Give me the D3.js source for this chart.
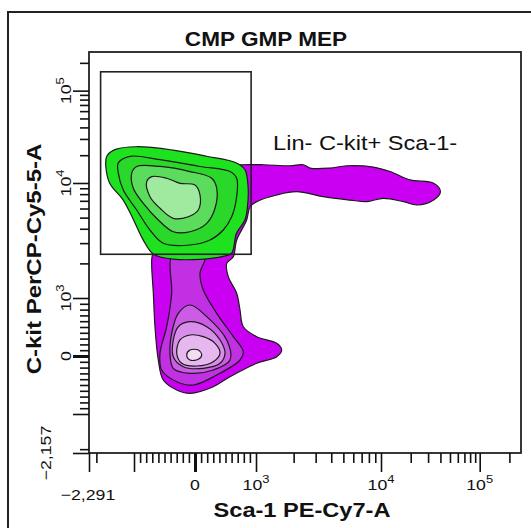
<!DOCTYPE html>
<html>
<head>
<meta charset="utf-8">
<script src="https://cdn.jsdelivr.net/npm/d3@7"></script>
<style>
  body { margin: 0; background: #fff; }
  svg { display: block; }
  text { font-family: "Liberation Sans", Arial, sans-serif; fill: #111; }
</style>
</head>
<body>
<svg id="chart" width="531" height="528"></svg>
<script>
// axis limits (linear units, biexponential display)
const xMin = -2291, yMin = -2157, axisMax = 262143;

const title = 'CMP GMP MEP';
const xTitle = 'Sca-1 PE-Cy7-A';
const yTitle = 'C-kit PerCP-Cy5-5-A';
const gateLabel = 'Lin- C-kit+ Sca-1-';

// labelled ticks: value, base, exponent
const tickValues = [0, 1e3, 1e4, 1e5];
const tickBase = ['0', '10', '10', '10'];
const tickExp = ['', '3', '4', '5'];
const longTicks = [-1000, 0, 1e3, 1e4, 1e5];
const minorTicks = [-2000]
  .concat(d3.range(-900, 1000, 100).filter(v => v !== 0))
  .concat([2, 3, 4, 5, 6, 7, 8, 9].map(m => m * 1e3))
  .concat([2, 3, 4, 5, 6, 7, 8, 9].map(m => m * 1e4))
  .concat([2e5]);

// rectangle gate [Sca-1 min, max], [C-kit min, max]
const gateX = [-1850, 920];
const gateY = [2400, 160000];
const gateLabelAt = [1370, 22500];

// contour outlines [Sca-1, C-kit], outermost level first
const greenOuter = [[-1650,19500],[-1420,23000],[-960,24700],[-360,22700],[190,19500],[680,16500],[820,13900],[870,9300],[860,6200],[820,4800],[680,3650],[600,2450],[460,2300],[80,2170],[-360,2180],[-680,2400],[-850,3200],[-1010,4800],[-1220,7100],[-1560,9900],[-1680,15100]];
const greenL2 = [[-1335,16500],[-1076,19450],[-574,17900],[82,15100],[574,13300],[683,11260],[683,7600],[601,5090],[464,3900],[246,3190],[-82,2890],[-520,2990],[-738,3900],[-956,5820],[-1218,8690],[-1335,12780]];
const greenL3 = [[-1043,12780],[-956,15100],[-574,15100],[-82,13300],[274,11260],[356,9000],[328,6030],[192,4460],[-82,3770],[-356,3770],[-602,4770],[-847,6660],[-1013,9000]];
const greenL4 = [[-792,10330],[-710,11730],[-464,11260],[-246,9940],[0,9600],[82,7870],[54,5820],[-110,5090],[-356,4930],[-574,6030],[-738,7600]];

const magentaOuter = [[765,15770],[1144,15770],[1871,15370],[2390,15770],[2704,14500],[3908,14500],[5316,15370],[8678,14880],[12350,13310],[19770,10790],[34180,9940],[39990,8400],[34180,7110],[23130,6440],[16890,6880],[10540,7360],[7685,6880],[5649,7110],[3454,7600],[2116,8400],[1464,7870],[1013,6880],[902,6220],[847,4770],[683,3190],[628,2290],[520,2000],[546,1530],[683,1100],[738,793],[792,505],[1013,333],[1464,219],[1605,103],[1464,-12],[1013,-126],[574,-357],[300,-529],[-82,-643],[-300,-586],[-520,-414],[-602,-69],[-656,505],[-683,1100],[-710,2140],[-683,2615],[-628,4170],[-356,11730],[464,15110]];
const magentaL2 = [[-115,2615],[-382,2290],[-382,1100],[-464,505],[-574,47],[-546,-241],[-300,-443],[-28,-500],[356,-328],[738,-69],[792,74],[628,333],[356,736],[136,1174],[82,1640],[164,2290]];
const magentaL3 = [[-82,879],[-274,736],[-382,391],[-410,47],[-356,-212],[-82,-298],[300,-241],[574,-69],[520,276],[192,678]];
const magentaL4 = [[-82,591],[-274,505],[-356,276],[-356,-12],[-192,-184],[136,-212],[410,-126],[492,47],[410,276],[192,505]];
const magentaL5 = [[-82,362],[-246,276],[-300,47],[-218,-126],[28,-172],[300,-98],[410,47],[328,219],[136,333]];
const magentaL6 = [[-82,103],[-136,17],[-82,-69],[54,-57],[110,17],[54,103]];

const magentaLevels = [magentaOuter, magentaL2, magentaL3, magentaL4, magentaL5, magentaL6];
const greenLevels = [greenOuter, greenL2, greenL3, greenL4];
const magentaFills = ['#ca00f2', '#c230e4', '#cc5ce6', '#d98eea', '#e6b8ef', '#f4ddf4'];
const greenFills = ['#1ee21e', '#2ad82a', '#5cdc5c', '#a0eaa0'];

// biexponential-style display: linear within +-1000, log decades outside
function disp(v) {
  const a = Math.abs(v);
  return Math.sign(v) * (a <= 1000 ? a / 1000 : 1 + Math.log10(a / 1000));
}

const plotLeft = 89, plotRight = 521, plotTop = 52, plotBottom = 453;
const stretch = 1.18;

const xs = d3.scaleLinear()
  .domain([disp(xMin), -1, 0, 1, 2, disp(axisMax)])
  .range([plotLeft, 134, 195, 256, 381, plotRight]);
const ys = d3.scaleLinear()
  .domain([disp(yMin), -1, 0, 1, 2, disp(axisMax)])
  .range([plotBottom, 414, 356, 298, 183, plotTop]);
const X = v => xs(disp(v));
const Y = v => ys(disp(v));

const svg = d3.select('#chart');
svg.append('rect').attr('width', 531).attr('height', 528).attr('fill', '#fff');

// outer frame
svg.append('path')
  .attr('d', 'M8,528V12H531')
  .attr('fill', 'none').attr('stroke', '#222').attr('stroke-width', 2);

const line = d3.line()
  .x(d => X(d[0]))
  .y(d => Y(d[1]))
  .curve(d3.curveCatmullRomClosed.alpha(0.5));

const plot = svg.append('g');
magentaLevels.forEach((pts, i) => {
  plot.append('path').attr('d', line(pts))
    .attr('fill', magentaFills[i]).attr('stroke', '#1a1a1a').attr('stroke-width', 1.2);
});
greenLevels.forEach((pts, i) => {
  plot.append('path').attr('d', line(pts))
    .attr('fill', greenFills[i]).attr('stroke', '#1a1a1a').attr('stroke-width', 1.2);
});

// gate
svg.append('rect')
  .attr('x', X(gateX[0])).attr('y', Y(gateY[1]))
  .attr('width', X(gateX[1]) - X(gateX[0]))
  .attr('height', Y(gateY[0]) - Y(gateY[1]))
  .attr('fill', 'none').attr('stroke', '#222').attr('stroke-width', 1.6);

svg.append('text')
  .attr('transform', `translate(${X(gateLabelAt[0])},${Y(gateLabelAt[1])}) scale(${stretch},1)`)
  .attr('font-size', 20)
  .text(gateLabel);

// plot box
svg.append('rect')
  .attr('x', plotLeft).attr('y', plotTop)
  .attr('width', plotRight - plotLeft).attr('height', plotBottom - plotTop)
  .attr('fill', 'none').attr('stroke', '#222').attr('stroke-width', 1.8);

// axes: short minor ticks, long ticks at decades
function styleAxis(g) {
  g.select('.domain').remove();
  g.selectAll('.tick line').attr('stroke', '#111').attr('stroke-width', 1.6);
  g.selectAll('.tick line').filter(d => d === 0).attr('stroke-width', 3);
}
svg.append('g').attr('transform', `translate(0,${plotBottom})`)
  .call(d3.axisBottom(xs).tickValues(minorTicks.map(disp)).tickSize(10).tickSizeOuter(0).tickFormat(''))
  .call(styleAxis);
svg.append('g').attr('transform', `translate(0,${plotBottom})`)
  .call(d3.axisBottom(xs).tickValues([xMin].concat(longTicks).map(disp)).tickSize(19).tickSizeOuter(0).tickFormat(''))
  .call(styleAxis);
svg.append('g').attr('transform', `translate(${plotLeft},0)`)
  .call(d3.axisLeft(ys).tickValues(minorTicks.map(disp)).tickSize(9).tickSizeOuter(0).tickFormat(''))
  .call(styleAxis);
svg.append('g').attr('transform', `translate(${plotLeft},0)`)
  .call(d3.axisLeft(ys).tickValues([yMin].concat(longTicks).map(disp)).tickSize(16).tickSizeOuter(0).tickFormat(''))
  .call(styleAxis);

// tick labels
function addLabel(g, base, exp) {
  g.append('tspan').text(base);
  if (exp) g.append('tspan').attr('dy', -7).attr('font-size', 11).text(exp);
}
tickValues.forEach((v, i) => {
  const t = svg.append('text')
    .attr('transform', `translate(${X(v)},490) scale(${stretch},1)`)
    .attr('text-anchor', 'middle').attr('font-size', 15);
  addLabel(t, tickBase[i], tickExp[i]);
  const u = svg.append('text')
    .attr('transform', `translate(71,${Y(v)}) rotate(-90) scale(${stretch},1)`)
    .attr('text-anchor', 'middle').attr('font-size', 15);
  addLabel(u, tickBase[i], tickExp[i]);
});
svg.append('text')
  .attr('transform', `translate(${X(xMin) - 1},500) scale(${stretch},1)`)
  .attr('text-anchor', 'middle').attr('font-size', 15)
  .text(d3.format(',')(xMin));
svg.append('text')
  .attr('transform', `translate(51,${Y(yMin)}) rotate(-90) scale(${stretch},1)`)
  .attr('text-anchor', 'middle').attr('font-size', 15)
  .text(d3.format(',')(yMin));

// titles
svg.append('text')
  .attr('transform', `translate(266,46) scale(1.13,1)`)
  .attr('text-anchor', 'middle').attr('font-size', 20).attr('font-weight', 'bold')
  .text(title);
svg.append('text')
  .attr('transform', `translate(${(plotLeft + plotRight) / 2 - 3},517) scale(${stretch},1)`)
  .attr('text-anchor', 'middle').attr('font-size', 20).attr('font-weight', 'bold')
  .text(xTitle);
svg.append('text')
  .attr('transform', `translate(41,259) rotate(-90) scale(1.2,1)`)
  .attr('text-anchor', 'middle').attr('font-size', 20).attr('font-weight', 'bold')
  .text(yTitle);
</script>
</body>
</html>
